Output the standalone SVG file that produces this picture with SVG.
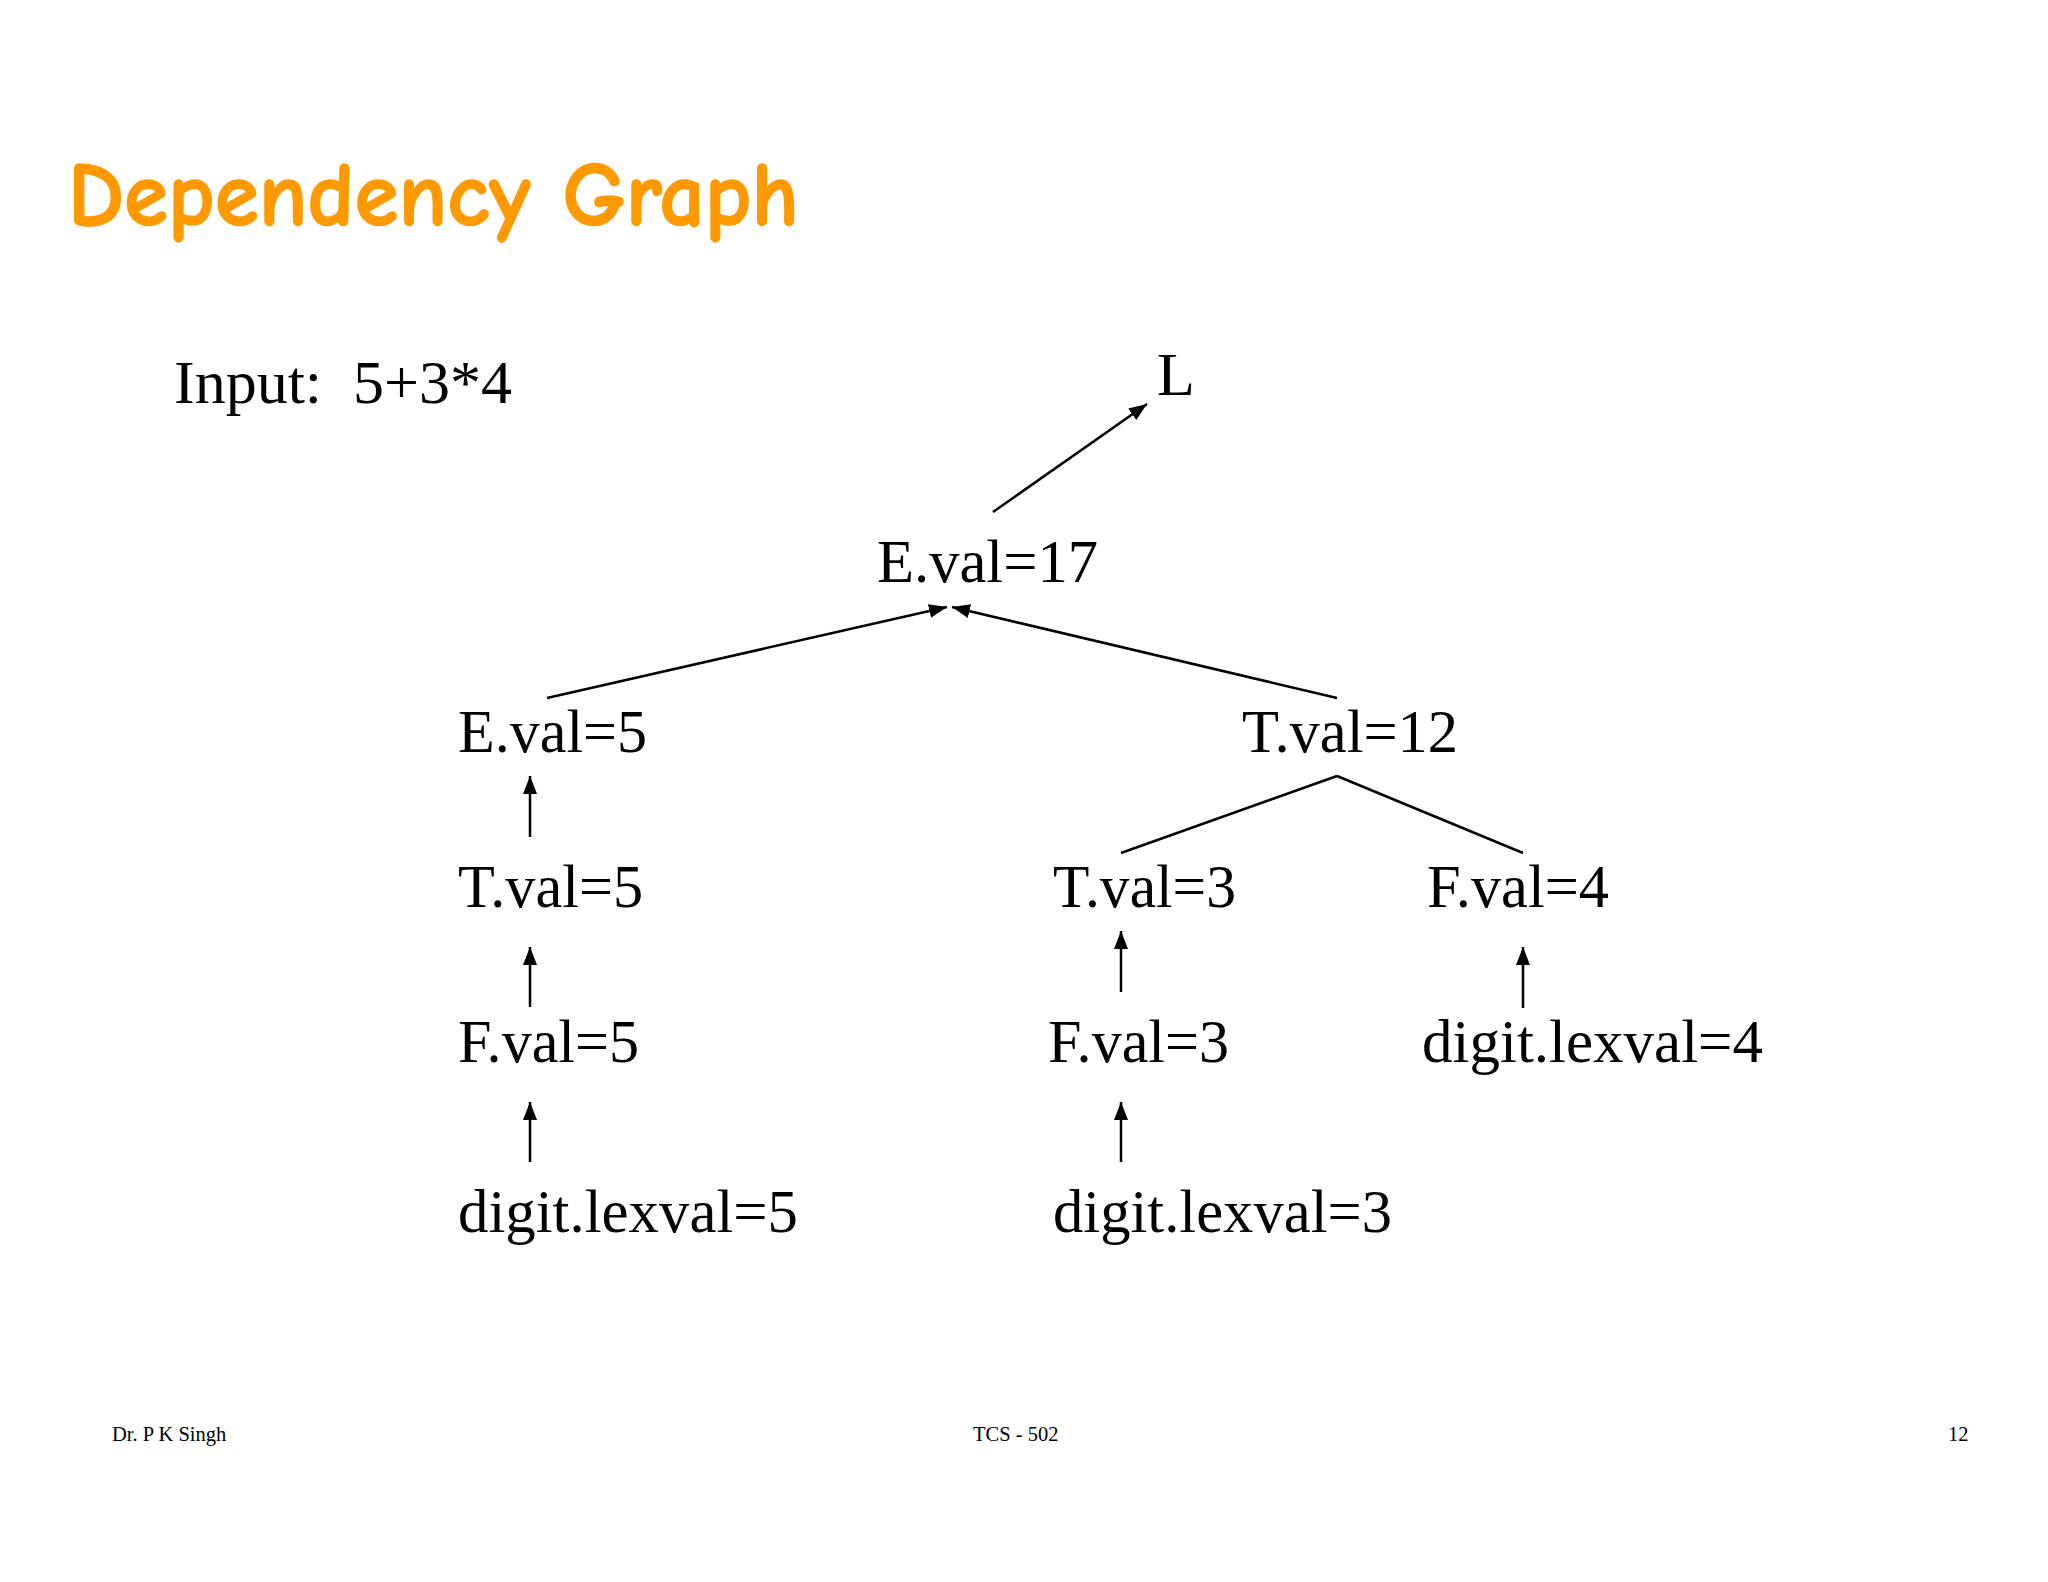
<svg xmlns="http://www.w3.org/2000/svg" width="2048" height="1582" viewBox="0 0 2048 1582">
<style>
.n{font-family:"Liberation Serif","Times New Roman",serif;font-size:62px;fill:#000}
.f{font-family:"Liberation Serif","Times New Roman",serif;font-size:20.5px;fill:#000}
.t{font-family:"Comic Sans MS","Comic Neue","Lato",sans-serif;font-weight:bold;font-size:90px;fill:#FF9900;stroke:#FF9900;stroke-width:1.5}
.e{stroke:#000;stroke-width:2.5;fill:none}
.a{marker-end:url(#ah)}
</style>
<defs>
<marker id="ah" markerUnits="userSpaceOnUse" markerWidth="20" markerHeight="16" refX="18" refY="7" orient="auto">
<path d="M0,0 L18,7 L0,14 z" fill="#000"/>
</marker>
</defs>
<rect width="2048" height="1582" fill="#fff"/>
<text class="t" x="68" y="225" textLength="731" lengthAdjust="spacingAndGlyphs">Dependency Graph</text>
<text class="n" x="174" y="403" xml:space="preserve">Input:  5+3*4</text>
<g id="connectors">
<line class="e a" x1="993" y1="512" x2="1147" y2="404"/>
<line class="e a" x1="547" y1="698" x2="947" y2="607"/>
<line class="e a" x1="1337" y1="698" x2="952" y2="607"/>
<line class="e" x1="1337" y1="776" x2="1121" y2="853"/>
<line class="e" x1="1337" y1="776" x2="1523" y2="853"/>
<line class="e a" x1="530" y1="837" x2="530" y2="776"/>
<line class="e a" x1="530" y1="1007" x2="530" y2="947"/>
<line class="e a" x1="530" y1="1162" x2="530" y2="1102"/>
<line class="e a" x1="1121" y1="992" x2="1121" y2="931"/>
<line class="e a" x1="1121" y1="1162" x2="1121" y2="1102"/>
<line class="e a" x1="1523" y1="1008" x2="1523" y2="947"/>
</g>
<g id="L"><text class="n" x="1157" y="395">L</text></g>
<g id="E17"><text class="n" x="877" y="582" textLength="221" lengthAdjust="spacingAndGlyphs">E.val=17</text></g>
<g id="E5"><text class="n" x="458" y="752" textLength="189" lengthAdjust="spacingAndGlyphs">E.val=5</text></g>
<g id="T12"><text class="n" x="1242" y="752" textLength="216" lengthAdjust="spacingAndGlyphs">T.val=12</text></g>
<g id="T5"><text class="n" x="458" y="907" textLength="185" lengthAdjust="spacingAndGlyphs">T.val=5</text></g>
<g id="T3"><text class="n" x="1053" y="907" textLength="183" lengthAdjust="spacingAndGlyphs">T.val=3</text></g>
<g id="F4"><text class="n" x="1427" y="907" textLength="182" lengthAdjust="spacingAndGlyphs">F.val=4</text></g>
<g id="F5"><text class="n" x="458" y="1062" textLength="181" lengthAdjust="spacingAndGlyphs">F.val=5</text></g>
<g id="F3"><text class="n" x="1048" y="1062" textLength="181" lengthAdjust="spacingAndGlyphs">F.val=3</text></g>
<g id="D4"><text class="n" x="1422" y="1062" textLength="341" lengthAdjust="spacingAndGlyphs">digit.lexval=4</text></g>
<g id="D5"><text class="n" x="458" y="1232" textLength="340" lengthAdjust="spacingAndGlyphs">digit.lexval=5</text></g>
<g id="D3"><text class="n" x="1053" y="1232" textLength="339" lengthAdjust="spacingAndGlyphs">digit.lexval=3</text></g>
<text class="f" x="112" y="1441">Dr. P K Singh</text>
<text class="f" x="973" y="1441">TCS - 502</text>
<text class="f" x="1948" y="1441">12</text>
</svg>
